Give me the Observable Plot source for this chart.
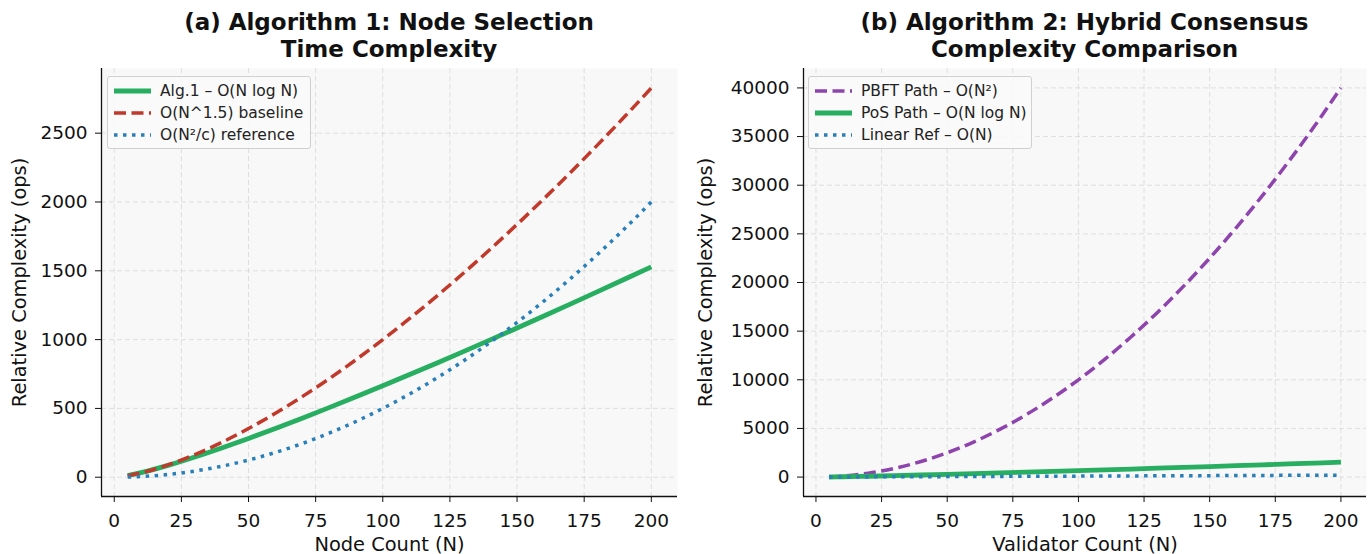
<!DOCTYPE html>
<html><head><meta charset="utf-8">
<script src="https://cdn.jsdelivr.net/npm/d3@7"></script>
<script src="https://cdn.jsdelivr.net/npm/@observablehq/plot@0.6"></script>
<style>
body{margin:0;width:1369px;height:554px;overflow:hidden;background:#fff;font-family:"DejaVu Sans",sans-serif;display:flex;}
.panel{position:relative;}
.title{height:68px;box-sizing:border-box;padding-top:9px;text-align:center;font-weight:bold;font-size:23px;line-height:27px;color:#111;white-space:nowrap;}
.legend{position:absolute;box-sizing:border-box;border:1px solid #d0d0d0;border-radius:3px;background:rgba(250,250,250,0.9);font-size:15.5px;color:#222;padding:3px 0 0 5px;white-space:nowrap;}
.legend .row{display:flex;align-items:center;height:22.2px;}
.legend svg{margin-right:9px;flex:none;}
</style></head>
<body>
<div id="pa" class="panel"></div>
<div id="pb" class="panel"></div>
<script>
// Node / validator counts
const N = [5,10,20,30,40,50,60,70,80,90,100,110,120,130,140,150,160,170,180,190,200];
// Panel (a)
const alg1 = [11.6,33.2,86.4,147.2,212.9,282.2,354.4,429.1,505.8,584.3,664.4,746.0,828.8,912.9,998.1,1084.3,1171.5,1259.6,1348.5,1438.3,1528.8];
const n15 = [11.2,31.6,89.4,164.3,253.0,353.6,464.8,585.7,715.5,853.8,1000,1153.7,1314.5,1482.2,1656.5,1837.1,2023.9,2216.5,2415.0,2619.0,2828.4];
const n2c = [1.25,5,20,45,80,125,180,245,320,405,500,605,720,845,980,1125,1280,1445,1620,1805,2000];
// Panel (b)
const pbft = [25,100,400,900,1600,2500,3600,4900,6400,8100,10000,12100,14400,16900,19600,22500,25600,28900,32400,36100,40000];
const pos = [11.6,33.2,86.4,147.2,212.9,282.2,354.4,429.1,505.8,584.3,664.4,746.0,828.8,912.9,998.1,1084.3,1171.5,1259.6,1348.5,1438.3,1528.8];
const linear = [5,10,20,30,40,50,60,70,80,90,100,110,120,130,140,150,160,170,180,190,200];
const xTicks = [0,25,50,75,100,125,150,175,200];
const yTicksA = [0,500,1000,1500,2000,2500];
const yTicksB = [0,5000,10000,15000,20000,25000,30000,35000,40000];

const GREEN="#27ae60", RED="#c0392b", BLUE="#2980b9", PURPLE="#8e44ad";
const styles = {
  solid:{strokeWidth:4.8, dash:null},
  dashed:{strokeWidth:3.5, dash:"12,5.5"},
  dotted:{strokeWidth:3.5, dash:"3.5,5.5"}
};

function panel(el, opts){
  const {title, ml, mr, width, yDomain, yTicks, xLabel, series, legendPos, ylOff} = opts;
  const t = document.createElement("div");
  t.className="title"; t.style.paddingLeft=ml+"px"; t.style.paddingRight=mr+"px";
  t.innerHTML = title;
  el.style.width = width+"px";
  el.appendChild(t);
  const xDomain=[-4.75,209.75];
  const lines = series.map(s => Plot.line(N, {x:N, y:s.values, stroke:s.color, strokeWidth:styles[s.style].strokeWidth,
      strokeDasharray:styles[s.style].dash, curve:"monotone-x", strokeLinecap:"butt"}));
  const chart = Plot.plot({
    width, height:486, marginLeft:ml, marginRight:mr, marginTop:0, marginBottom:58,
    style:{fontFamily:'"DejaVu Sans",sans-serif', fontSize:"18.5px", color:"#111", background:"transparent", overflow:"visible"},
    x:{domain:xDomain},
    y:{domain:yDomain},
    marks:[
      Plot.frame({fill:"#f8f8f8", stroke:null}),
      Plot.gridX({ticks:xTicks, stroke:"#c8c8c8", strokeOpacity:0.5, strokeDasharray:"5,3"}),
      Plot.gridY({ticks:yTicks, stroke:"#c8c8c8", strokeOpacity:0.5, strokeDasharray:"5,3"}),
      ...lines,
      Plot.ruleX([xDomain[0]], {stroke:"#111", strokeWidth:1.3}),
      Plot.ruleY([yDomain[0]], {stroke:"#111", strokeWidth:1.3}),
      Plot.axisX({ticks:xTicks, tickSize:6, tickPadding:11, fontSize:18.5, label:null}),
      Plot.axisX({ticks:[], label:xLabel, fontSize:19.4, labelAnchor:"center", labelArrow:"none", labelOffset:54}),
      Plot.axisY({ticks:yTicks, tickSize:6, tickPadding:8, fontSize:18.5, tickFormat:d3.format("d"), label:null}),
      Plot.axisY({ticks:[], label:"Relative Complexity (ops)", fontSize:19.4, labelAnchor:"center", labelArrow:"none", labelOffset:ylOff})
    ]
  });
  el.appendChild(chart);
  const lg = document.createElement("div");
  lg.className="legend";
  Object.assign(lg.style, {left:legendPos[0]+"px", top:legendPos[1]+"px", width:legendPos[2]+"px", height:legendPos[3]+"px"});
  for (const s of series){
    const st = styles[s.style];
    const row = document.createElement("div"); row.className="row";
    row.innerHTML = `<svg width="38" height="10"><line x1="1" x2="38" y1="5" y2="5" stroke="${s.color}" stroke-width="${st.strokeWidth}" ${st.dash?`stroke-dasharray="${st.dash}"`:""}/></svg><span>${s.name}</span>`;
    lg.appendChild(row);
  }
  el.appendChild(lg);
}

panel(document.getElementById("pa"), {
  title:"(a) Algorithm 1: Node Selection<br>Time Complexity",
  ml:101, mr:7, width:684, ylOff:89,
  yDomain:[-140,2970], yTicks:yTicksA, xLabel:"Node Count (N)",
  legendPos:[107,76,204,73],
  series:[
    {name:"Alg.1 – O(N log N)", values:alg1, color:GREEN, style:"solid"},
    {name:"O(N^1.5) baseline", values:n15, color:RED, style:"dashed"},
    {name:"O(N²/c) reference", values:n2c, color:BLUE, style:"dotted"}
  ]
});
panel(document.getElementById("pb"), {
  title:"(b) Algorithm 2: Hybrid Consensus<br>Complexity Comparison",
  ml:119, mr:3, width:685, ylOff:105,
  yDomain:[-1995,41995], yTicks:yTicksB, xLabel:"Validator Count (N)",
  legendPos:[124,76,224,73],
  series:[
    {name:"PBFT Path – O(N²)", values:pbft, color:PURPLE, style:"dashed"},
    {name:"PoS Path – O(N log N)", values:pos, color:GREEN, style:"solid"},
    {name:"Linear Ref – O(N)", values:linear, color:BLUE, style:"dotted"}
  ]
});
</script>
</body></html>
